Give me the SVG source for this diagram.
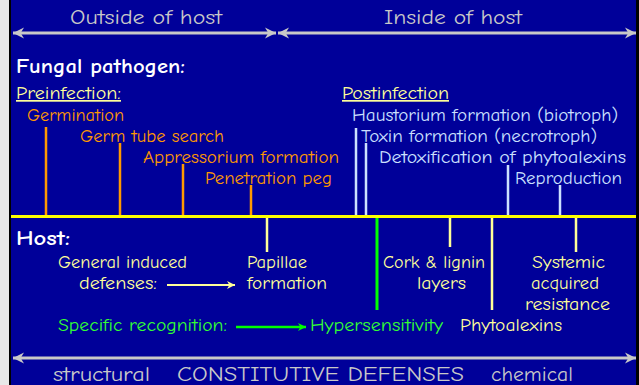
<svg xmlns="http://www.w3.org/2000/svg" width="639" height="385" viewBox="0 0 639 385">
<style>
text{font-family:"Comic Sans MS","Comic Neue","DejaVu Sans",sans-serif;font-size:17px}
.gray{fill:#C8C8C8;font-size:20px}
.bold{fill:#FFFFFF;font-weight:bold;font-size:20px}
.hdr{fill:#FFFF99;text-decoration:underline}
.or{fill:#FF9900}
.lb{fill:#CCE0FF}
.ye{fill:#FFFF99}
.gr{fill:#33FF33}
.lo{stroke:#FF9900;stroke-width:2.5}
.ll{stroke:#CCE0FF;stroke-width:2.5}
.ly{stroke:#FFFF99;stroke-width:2.5}
.lg{stroke:#00FF00;stroke-width:3}
.ax{stroke:#C8C8C8;stroke-width:3;fill:none}
</style>
<defs>
<marker id="gh" viewBox="0 0 10 10" refX="10" refY="5" markerUnits="userSpaceOnUse" markerWidth="11" markerHeight="13" orient="auto-start-reverse">
<path d="M0,0 L10,5 L0,10 L3,5 z" fill="#C8C8C8"/>
</marker>
<marker id="yh" viewBox="0 0 10 10" refX="10" refY="5" markerUnits="userSpaceOnUse" markerWidth="8" markerHeight="8" orient="auto">
<path d="M0,0 L10,5 L0,10 L3,5 z" fill="#FFFF99"/>
</marker>
<marker id="grh" viewBox="0 0 10 10" refX="10" refY="5" markerUnits="userSpaceOnUse" markerWidth="8" markerHeight="8" orient="auto">
<path d="M0,0 L10,5 L0,10 L3,5 z" fill="#00FF00"/>
</marker>
</defs>
<rect x="0" y="0" width="639" height="385" fill="#000099"/>
<rect x="0" y="0" width="9" height="385" fill="#E8E8E8"/>
<rect x="9" y="0" width="2" height="385" fill="#000000"/>
<rect x="636" y="0" width="3" height="385" fill="#000000"/>

<g id="connectors">
<line class="ax" x1="13" y1="33" x2="276" y2="33" marker-start="url(#gh)" marker-end="url(#gh)"/>
<line class="ax" x1="278" y1="33" x2="636" y2="33" marker-start="url(#gh)" marker-end="url(#gh)"/>
<line class="ax" x1="13" y1="358" x2="636" y2="358" marker-start="url(#gh)" marker-end="url(#gh)"/>
<line x1="11" y1="216.5" x2="636" y2="216.5" stroke="#FFFF00" stroke-width="3"/>
<line class="lo" x1="46" y1="127" x2="46" y2="215"/>
<line class="lo" x1="120" y1="143" x2="120" y2="215"/>
<line class="lo" x1="183" y1="164" x2="183" y2="215"/>
<line class="lo" x1="251" y1="185" x2="251" y2="215"/>
<line class="ll" x1="356" y1="128" x2="356" y2="215"/>
<line class="ll" x1="366" y1="143" x2="366" y2="215"/>
<line class="ll" x1="508" y1="165" x2="508" y2="215"/>
<line class="ll" x1="560" y1="185" x2="560" y2="215"/>
<line class="ly" x1="267" y1="218" x2="267" y2="252"/>
<line class="lg" x1="377" y1="218" x2="377" y2="310"/>
<line class="ly" x1="450" y1="218" x2="450" y2="247"/>
<line class="ly" x1="492" y1="218" x2="492" y2="310"/>
<line class="ly" x1="576" y1="218" x2="576" y2="252"/>
<line x1="167" y1="285" x2="235" y2="285" stroke="#FFFF99" stroke-width="2" marker-end="url(#yh)"/>
<line x1="236" y1="327" x2="306" y2="327" stroke="#00FF00" stroke-width="2.5" marker-end="url(#grh)"/>
</g>

<g id="outside-of-host"><text class="gray" x="70" y="24" textLength="152" lengthAdjust="spacingAndGlyphs">Outside of host</text></g>
<g id="inside-of-host"><text class="gray" x="384" y="24" textLength="138" lengthAdjust="spacingAndGlyphs">Inside of host</text></g>
<g id="fungal-pathogen"><text class="bold" x="16" y="73" textLength="169" lengthAdjust="spacingAndGlyphs">Fungal pathogen:</text></g>
<g id="preinfection"><text class="hdr" x="16" y="99" textLength="105" lengthAdjust="spacingAndGlyphs">Preinfection:</text></g>
<g id="postinfection"><text class="hdr" x="342" y="99" textLength="107" lengthAdjust="spacingAndGlyphs">Postinfection</text></g>
<g id="germination"><text class="or" x="27" y="121" textLength="97" lengthAdjust="spacingAndGlyphs">Germination</text></g>
<g id="germ-tube"><text class="or" x="80" y="142" textLength="144" lengthAdjust="spacingAndGlyphs">Germ tube search</text></g>
<g id="appressorium"><text class="or" x="143" y="163" textLength="196" lengthAdjust="spacingAndGlyphs">Appressorium formation</text></g>
<g id="penetration-peg"><text class="or" x="205" y="184" textLength="127" lengthAdjust="spacingAndGlyphs">Penetration peg</text></g>
<g id="haustorium"><text class="lb" x="352" y="121" textLength="266" lengthAdjust="spacingAndGlyphs">Haustorium formation (biotroph)</text></g>
<g id="toxin"><text class="lb" x="361" y="142" textLength="236" lengthAdjust="spacingAndGlyphs">Toxin formation (necrotroph)</text></g>
<g id="detox"><text class="lb" x="379" y="163" textLength="247" lengthAdjust="spacingAndGlyphs">Detoxification of phytoalexins</text></g>
<g id="reproduction"><text class="lb" x="515" y="184" textLength="107" lengthAdjust="spacingAndGlyphs">Reproduction</text></g>
<g id="host"><text class="bold" x="16" y="245" textLength="54" lengthAdjust="spacingAndGlyphs">Host:</text></g>
<g id="general-induced">
<text class="ye" x="58" y="268" textLength="129" lengthAdjust="spacingAndGlyphs">General induced</text>
<text class="ye" x="79" y="289" textLength="78" lengthAdjust="spacingAndGlyphs">defenses:</text>
</g>
<g id="papillae">
<text class="ye" x="247" y="268" textLength="60" lengthAdjust="spacingAndGlyphs">Papillae</text>
<text class="ye" x="247" y="289" textLength="80" lengthAdjust="spacingAndGlyphs">formation</text>
</g>
<g id="cork-lignin">
<text class="ye" x="383" y="268" textLength="102" lengthAdjust="spacingAndGlyphs">Cork &amp; lignin</text>
<text class="ye" x="417" y="289" textLength="49" lengthAdjust="spacingAndGlyphs">layers</text>
</g>
<g id="sar">
<text class="ye" x="532" y="268" textLength="73" lengthAdjust="spacingAndGlyphs">Systemic</text>
<text class="ye" x="531" y="289" textLength="68" lengthAdjust="spacingAndGlyphs">acquired</text>
<text class="ye" x="525" y="310" textLength="85" lengthAdjust="spacingAndGlyphs">resistance</text>
</g>
<g id="specific-recognition"><text class="gr" x="58" y="331" textLength="169" lengthAdjust="spacingAndGlyphs">Specific recognition:</text></g>
<g id="hypersensitivity"><text class="gr" x="310" y="331" textLength="133" lengthAdjust="spacingAndGlyphs">Hypersensitivity</text></g>
<g id="phytoalexins"><text class="ye" x="460" y="331" textLength="102" lengthAdjust="spacingAndGlyphs">Phytoalexins</text></g>
<g id="structural"><text class="gray" x="53" y="381" textLength="97" lengthAdjust="spacingAndGlyphs">structural</text></g>
<g id="constitutive"><text class="gray" x="177" y="381" textLength="287" lengthAdjust="spacingAndGlyphs">CONSTITUTIVE DEFENSES</text></g>
<g id="chemical"><text class="gray" x="491" y="381" textLength="82" lengthAdjust="spacingAndGlyphs">chemical</text></g>
</svg>
